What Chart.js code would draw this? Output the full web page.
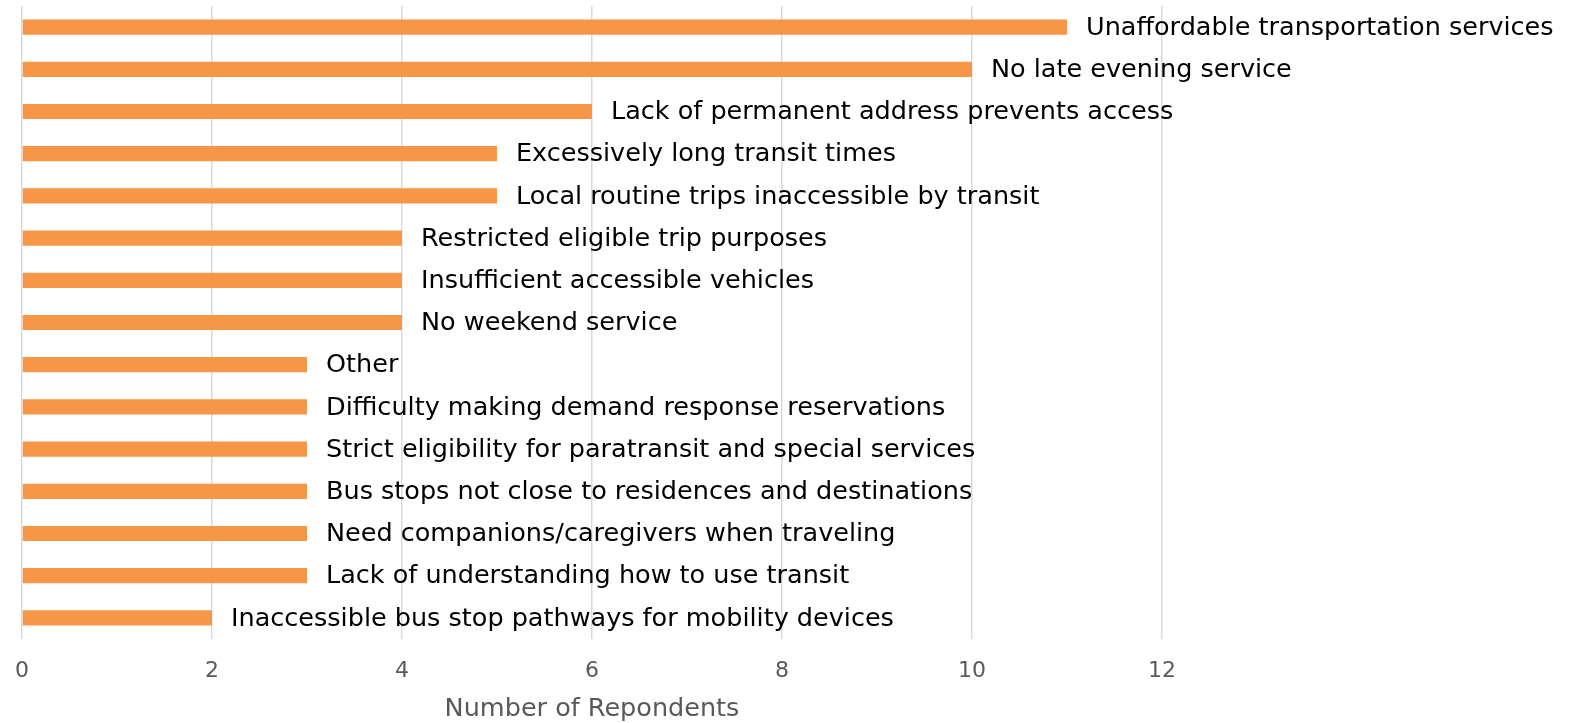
<!DOCTYPE html>
<html>
<head>
<meta charset="utf-8">
<script src="https://cdn.jsdelivr.net/npm/chart.js@4"></script>
<style>
  html, body { margin: 0; padding: 0; background: #ffffff; }
  #wrap { width: 1583px; height: 723px; position: relative; }
</style>
</head>
<body>
<div id="wrap"><canvas id="chart"></canvas></div>
<script>
// Barriers reported, top to bottom
const barriers = [
  "Unaffordable transportation services",
  "No late evening service",
  "Lack of permanent address prevents access",
  "Excessively long transit times",
  "Local routine trips inaccessible by transit",
  "Restricted eligible trip purposes",
  "Insufficient accessible vehicles",
  "No weekend service",
  "Other",
  "Difficulty making demand response reservations",
  "Strict eligibility for paratransit and special services",
  "Bus stops not close to residences and destinations",
  "Need companions/caregivers when traveling",
  "Lack of understanding how to use transit",
  "Inaccessible bus stop pathways for mobility devices"
];
const respondents = [11, 10, 6, 5, 5, 4, 4, 4, 3, 3, 3, 3, 3, 3, 2];
const xTicks = [0, 2, 4, 6, 8, 10, 12];
const axisTitle = "Number of Repondents";

const FONT = "'DejaVu Sans', sans-serif";

// Writes each category name just past the end of its bar
const barNameLabels = {
  id: 'barNameLabels',
  afterDatasetsDraw(chart) {
    const ctx = chart.ctx;
    const meta = chart.getDatasetMeta(0);
    ctx.save();
    ctx.font = "25.5px " + FONT;
    ctx.fillStyle = "#000000";
    ctx.textAlign = "left";
    ctx.textBaseline = "middle";
    meta.data.forEach((bar, i) => {
      ctx.fillText(barriers[i], bar.x + 19, bar.y + 1);
    });
    ctx.restore();
  }
};

new Chart(document.getElementById('chart'), {
  type: 'bar',
  data: {
    labels: barriers,
    datasets: [{
      data: respondents,
      backgroundColor: '#F79646',
      borderWidth: 0,
      barPercentage: 0.9,
      categoryPercentage: 0.4
    }]
  },
  options: {
    indexAxis: 'y',
    responsive: true,
    maintainAspectRatio: false,
    animation: false,
    layout: { padding: { left: 22, right: 421, top: 6, bottom: 0 } },
    plugins: {
      legend: { display: false },
      tooltip: { enabled: false }
    },
    scales: {
      y: { display: false },
      x: {
        min: 0,
        max: 12,
        afterBuildTicks(scale) {
          scale.ticks = xTicks.map(v => ({ value: v }));
        },
        afterFit(scale) {
          scale.height = 84;
          scale.paddingLeft = 0;
          scale.paddingRight = 0;
        },
        grid: { color: '#d9d9d9', lineWidth: 1.5, drawTicks: false },
        border: { display: false },
        ticks: {
          color: '#595959',
          font: { family: FONT, size: 22 },
          padding: 19
        },
        title: {
          display: true,
          text: axisTitle,
          color: '#595959',
          font: { family: FONT, size: 25.5 },
          padding: { top: 0, bottom: -2 }
        }
      }
    }
  },
  plugins: [barNameLabels]
});
</script>
</body>
</html>
